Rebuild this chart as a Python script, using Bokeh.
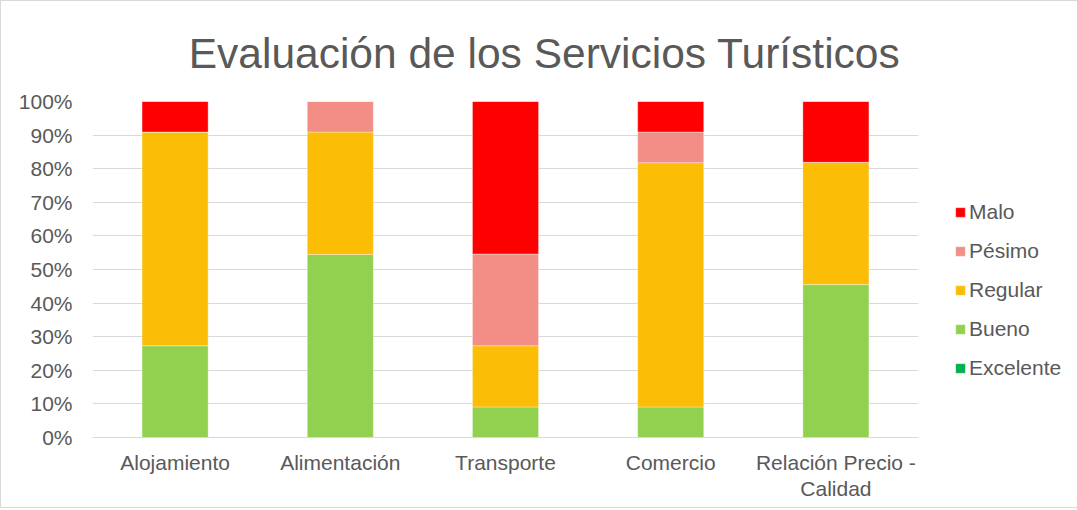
from bokeh.plotting import figure
from bokeh.models import (Legend, LegendItem, Range1d, NumeralTickFormatter,
                          FixedTicker, CategoricalAxis, Title, CustomJSTickFormatter)
from bokeh.embed import file_html
from bokeh.resources import INLINE

categories = ["Alojamiento", "Alimentación", "Transporte", "Comercio", "Relación Precio - Calidad"]
series = ["Excelente", "Bueno", "Regular", "Pésimo", "Malo"]
excelente = [0.0, 0.0, 0.0, 0.0, 0.0]
bueno = [0.273, 0.545, 0.091, 0.091, 0.455]
regular = [0.636, 0.364, 0.182, 0.727, 0.364]
pesimo = [0.0, 0.091, 0.273, 0.091, 0.0]
malo = [0.091, 0.0, 0.455, 0.091, 0.182]
colors = ["#00b050", "#92d050", "#fbbd05", "#f28e86", "#ff0000"]
y_ticks = [0, 0.1, 0.2, 0.3, 0.4, 0.5, 0.6, 0.7, 0.8, 0.9, 1.0]

data = {"cat": categories, "Excelente": excelente, "Bueno": bueno,
        "Regular": regular, "Pésimo": pesimo, "Malo": malo}

FONT = "Liberation Sans"
GRAY = "#595959"
FS = "21px"

p = figure(x_range=categories, frame_width=826, frame_height=336,
           output_backend="svg", toolbar_location=None,
           min_border_left=91, min_border_right=154,
           min_border_top=100, min_border_bottom=70)
p.y_range = Range1d(0, 1)
p.outline_line_color = None

p.title = Title(text="Evaluación de los Servicios Turísticos", align="right",
                offset=18, text_font=FONT, text_font_size="42.5px",
                text_color=GRAY, text_font_style="normal", standoff=50)

renderers = p.vbar_stack(series, x="cat", width=0.4, color=colors, source=data,
                         line_color="white", line_alpha=0.35, line_width=1)

items = [LegendItem(label=s, renderers=[r]) for s, r in zip(series, renderers)]
items = items[::-1]
legend = Legend(items=items, location=(36, 57), orientation="vertical",
                glyph_width=12, glyph_height=12, label_standoff=3, spacing=15,
                padding=0, margin=0, label_height=20,
                border_line_color=None, background_fill_alpha=0,
                label_text_font=FONT, label_text_font_size=FS,
                label_text_color=GRAY)
p.add_layout(legend, "right")

p.xgrid.grid_line_color = None
p.ygrid.grid_line_color = "#d9d9d9"
p.ygrid.grid_line_width = 1
p.yaxis.ticker = FixedTicker(ticks=y_ticks)
p.yaxis.formatter = NumeralTickFormatter(format="0%")
p.yaxis.axis_line_color = None
p.yaxis.major_tick_line_color = None
p.yaxis.minor_tick_line_color = None
p.yaxis.major_tick_out = 0
p.yaxis.major_label_standoff = 20
p.yaxis.major_label_text_font = FONT
p.yaxis.major_label_text_font_size = FS
p.yaxis.major_label_text_color = GRAY

p.xaxis.axis_line_color = "#d9d9d9"
p.xaxis.major_tick_line_color = None
p.xaxis.major_tick_out = 0
p.xaxis.major_label_standoff = 13
p.xaxis.major_label_text_font = FONT
p.xaxis.major_label_text_font_size = FS
p.xaxis.major_label_text_color = GRAY
p.xaxis.formatter = CustomJSTickFormatter(
    code="return tick.indexOf(' - ') >= 0 ? tick.split(' - ')[0] + ' -' : tick;")

# second line of the wrapped category label
ax2 = CategoricalAxis(axis_line_color=None, major_tick_line_color=None,
                      minor_tick_line_color=None, major_tick_out=0,
                      major_label_standoff=0, major_label_text_font=FONT,
                      major_label_text_font_size=FS,
                      major_label_text_color=GRAY)
ax2.formatter = CustomJSTickFormatter(
    code="return tick.indexOf(' - ') >= 0 ? tick.split(' - ')[1] : '';")
p.add_layout(ax2, "below")

p.styles = {"border": "1px solid #d9d9d9"}

open("out.html", "w").write(file_html(p, INLINE))
